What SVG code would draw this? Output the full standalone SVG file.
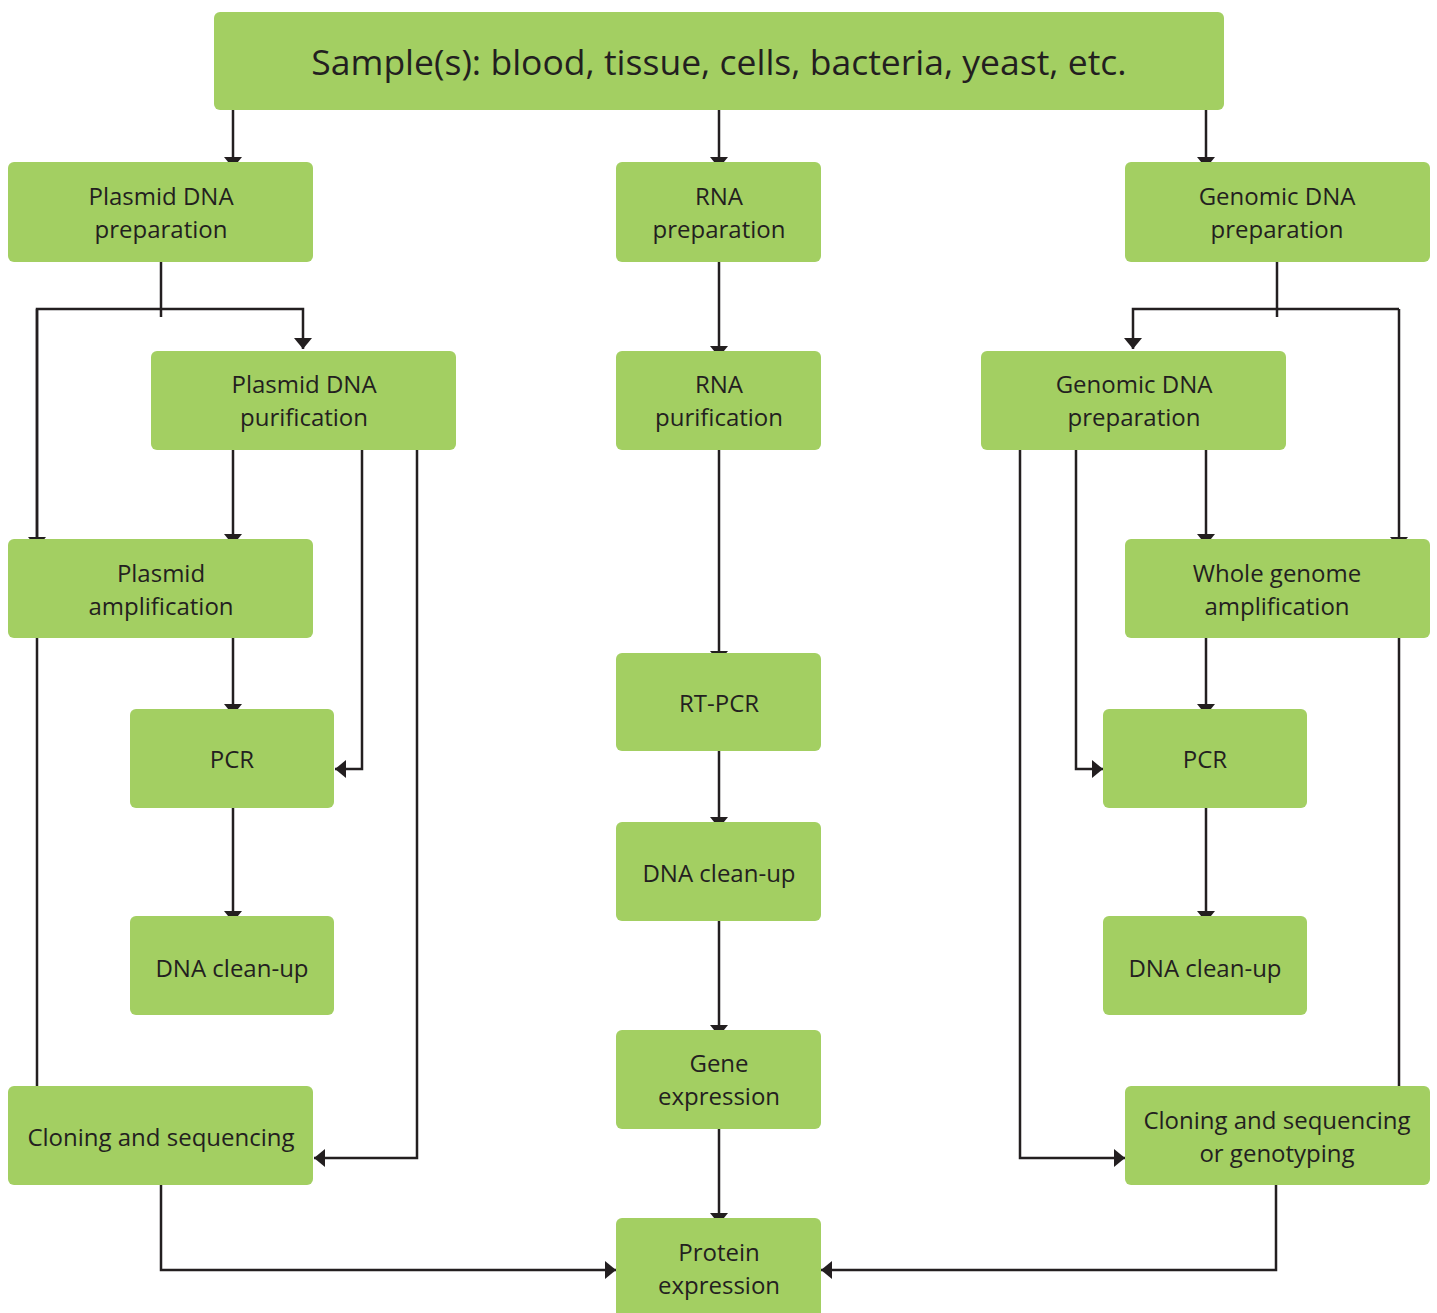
<svg xmlns="http://www.w3.org/2000/svg" width="1437" height="1313" viewBox="0 0 1437 1313">
<style>
.box{fill:#a3cf62;}
.t{font-family:"Open Sans","Liberation Sans",sans-serif;font-size:24px;fill:#231f20;text-anchor:middle;}
.big{font-size:35.5px;}
.c{fill:none;stroke:#231f20;stroke-width:2.5;stroke-linejoin:miter;}
.a{marker-end:url(#ah);}
</style>
<defs>
<marker id="ah" markerUnits="userSpaceOnUse" markerWidth="12" markerHeight="20" refX="11" refY="10" orient="auto">
<path d="M0,1 L11,10 L0,19 z" fill="#231f20"/>
</marker>
</defs>
<rect width="1437" height="1313" fill="#ffffff"/>
<g id="connectors">
<!-- top -->
<path class="c a" d="M233,110 V168"/>
<path class="c a" d="M719,110 V168"/>
<path class="c a" d="M1206,110 V168"/>
<!-- left -->
<path class="c" d="M161,262 V317"/>
<path class="c a" d="M37,539 V309 H303 V349"/>
<path class="c a" d="M37,309 V548"/>
<path class="c" d="M37,638 V1086"/>
<path class="c a" d="M233,450 V545"/>
<path class="c a" d="M362,450 V769 H335"/>
<path class="c a" d="M417,450 V1158 H314"/>
<path class="c a" d="M233,638 V715"/>
<path class="c a" d="M233,808 V922"/>
<path class="c a" d="M161,1185 V1270 H616"/>
<!-- middle -->
<path class="c a" d="M719,262 V357"/>
<path class="c a" d="M719,450 V662"/>
<path class="c a" d="M719,751 V828"/>
<path class="c a" d="M719,921 V1036"/>
<path class="c a" d="M719,1129 V1224"/>
<!-- right -->
<path class="c" d="M1277,262 V317"/>
<path class="c a" d="M1399,309 H1133 V349"/>
<path class="c a" d="M1399,309 V548"/>
<path class="c" d="M1399,638 V1086"/>
<path class="c a" d="M1206,450 V545"/>
<path class="c a" d="M1076,450 V769 H1103"/>
<path class="c a" d="M1020,450 V1158 H1125"/>
<path class="c a" d="M1206,638 V715"/>
<path class="c a" d="M1206,808 V922"/>
<path class="c a" d="M1276,1185 V1270 H821"/>
</g>
<g id="n-sample"><rect class="box" x="214" y="12" width="1010" height="98" rx="6"/><text class="t big" x="719" y="75">Sample(s): blood, tissue, cells, bacteria, yeast, etc.</text></g>
<g id="n-plasmid-prep"><rect class="box" x="8" y="162" width="305" height="100" rx="6"/><text class="t" x="161" y="205">Plasmid DNA</text><text class="t" x="161" y="238">preparation</text></g>
<g id="n-rna-prep"><rect class="box" x="616" y="162" width="205" height="100" rx="6"/><text class="t" x="719" y="205">RNA</text><text class="t" x="719" y="238">preparation</text></g>
<g id="n-genomic-prep"><rect class="box" x="1125" y="162" width="305" height="100" rx="6"/><text class="t" x="1277" y="205">Genomic DNA</text><text class="t" x="1277" y="238">preparation</text></g>
<g id="n-plasmid-pur"><rect class="box" x="151" y="351" width="305" height="99" rx="6"/><text class="t" x="304" y="393">Plasmid DNA</text><text class="t" x="304" y="426">purification</text></g>
<g id="n-rna-pur"><rect class="box" x="616" y="351" width="205" height="99" rx="6"/><text class="t" x="719" y="393">RNA</text><text class="t" x="719" y="426">purification</text></g>
<g id="n-genomic-prep2"><rect class="box" x="981" y="351" width="305" height="99" rx="6"/><text class="t" x="1134" y="393">Genomic DNA</text><text class="t" x="1134" y="426">preparation</text></g>
<g id="n-plasmid-amp"><rect class="box" x="8" y="539" width="305" height="99" rx="6"/><text class="t" x="161" y="582">Plasmid</text><text class="t" x="161" y="615">amplification</text></g>
<g id="n-wga"><rect class="box" x="1125" y="539" width="305" height="99" rx="6"/><text class="t" x="1277" y="582">Whole genome</text><text class="t" x="1277" y="615">amplification</text></g>
<g id="n-rtpcr"><rect class="box" x="616" y="653" width="205" height="98" rx="6"/><text class="t" x="719" y="712">RT-PCR</text></g>
<g id="n-pcr-left"><rect class="box" x="130" y="709" width="204" height="99" rx="6"/><text class="t" x="232" y="768">PCR</text></g>
<g id="n-pcr-right"><rect class="box" x="1103" y="709" width="204" height="99" rx="6"/><text class="t" x="1205" y="768">PCR</text></g>
<g id="n-cleanup-mid"><rect class="box" x="616" y="822" width="205" height="99" rx="6"/><text class="t" x="719" y="882">DNA clean-up</text></g>
<g id="n-cleanup-left"><rect class="box" x="130" y="916" width="204" height="99" rx="6"/><text class="t" x="232" y="977">DNA clean-up</text></g>
<g id="n-cleanup-right"><rect class="box" x="1103" y="916" width="204" height="99" rx="6"/><text class="t" x="1205" y="977">DNA clean-up</text></g>
<g id="n-gene-expr"><rect class="box" x="616" y="1030" width="205" height="99" rx="6"/><text class="t" x="719" y="1072">Gene</text><text class="t" x="719" y="1105">expression</text></g>
<g id="n-cloning"><rect class="box" x="8" y="1086" width="305" height="99" rx="6"/><text class="t" x="161" y="1146">Cloning and sequencing</text></g>
<g id="n-cloning-geno"><rect class="box" x="1125" y="1086" width="305" height="99" rx="6"/><text class="t" x="1277" y="1129">Cloning and sequencing</text><text class="t" x="1277" y="1162">or genotyping</text></g>
<g id="n-protein"><rect class="box" x="616" y="1218" width="205" height="105" rx="6"/><text class="t" x="719" y="1261">Protein</text><text class="t" x="719" y="1294">expression</text></g>
</svg>
